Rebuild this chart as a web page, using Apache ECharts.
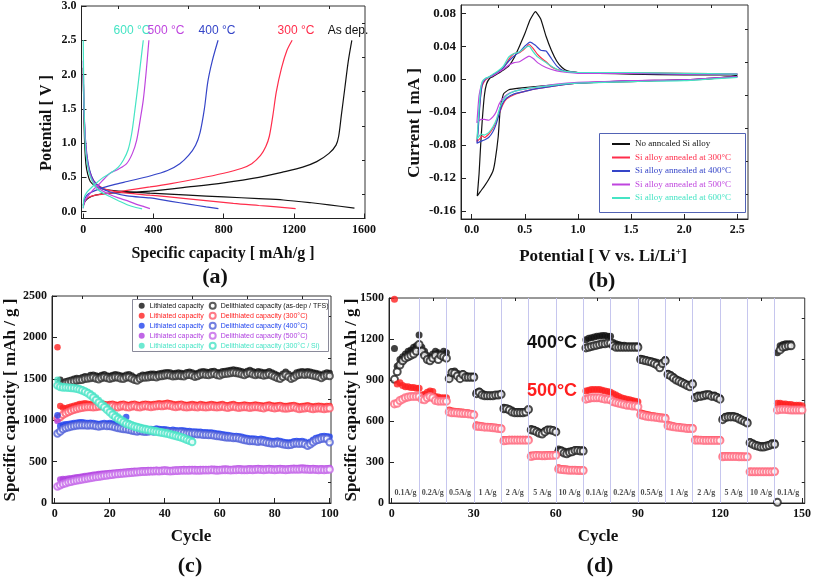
<!DOCTYPE html>
<html><head><meta charset="utf-8">
<script src="https://cdn.jsdelivr.net/npm/echarts@6/dist/echarts.min.js"></script>
<style>html,body{margin:0;padding:0;background:#fff}#c{width:814px;height:581px}</style>
</head><body><div id="c"></div>
<script>
// ---------------- Panel (a): charge/discharge curves [capacity mAh/g, potential V]
const aAsDepDis = [[0,2.1],[3,1.5],[8,1.0],[15,0.7],[25,0.55],[40,0.44],[70,0.37],[110,0.33],[200,0.3],[380,0.27],[600,0.24],[800,0.215],[1000,0.19],[1140,0.17],[1300,0.13],[1400,0.1],[1545,0.05]];
const aAsDepCha = [[0,0.08],[10,0.15],[30,0.2],[70,0.24],[150,0.27],[250,0.28],[380,0.3],[600,0.36],[800,0.42],[1000,0.5],[1140,0.58],[1250,0.65],[1330,0.73],[1400,0.85],[1440,0.97],[1455,1.1],[1470,1.4],[1490,1.8],[1510,2.2],[1530,2.5]];
const a300Dis = [[0,2.0],[4,1.5],[10,1.1],[20,0.8],[35,0.6],[60,0.45],[100,0.36],[150,0.31],[250,0.27],[380,0.24],[570,0.195],[855,0.12],[1000,0.09],[1100,0.07],[1210,0.045]];
const a300Cha = [[0,0.1],[10,0.17],[30,0.21],[70,0.24],[150,0.27],[250,0.31],[380,0.36],[500,0.41],[650,0.48],[800,0.56],[900,0.63],[960,0.7],[1010,0.82],[1040,0.95],[1060,1.1],[1080,1.4],[1100,1.75],[1130,2.1],[1160,2.35],[1190,2.5]];
const a400Dis = [[0,2.0],[4,1.5],[10,1.15],[20,0.85],[35,0.62],[60,0.45],[100,0.35],[150,0.29],[250,0.23],[380,0.2],[500,0.15],[600,0.11],[700,0.07],[770,0.045]];
const a400Cha = [[0,0.1],[10,0.2],[30,0.26],[60,0.3],[100,0.34],[170,0.39],[250,0.44],[380,0.52],[480,0.6],[550,0.7],[600,0.82],[640,0.97],[665,1.15],[690,1.5],[710,1.9],[735,2.2],[768,2.5]];
const a500Dis = [[0,2.2],[4,1.6],[10,1.15],[20,0.8],[35,0.58],[60,0.42],[100,0.32],[150,0.25],[200,0.2],[250,0.16],[300,0.11],[350,0.07],[380,0.045]];
const a500Cha = [[0,0.05],[5,0.12],[20,0.2],[50,0.3],[90,0.4],[120,0.48],[152,0.56],[200,0.62],[247,0.7],[280,0.85],[304,1.04],[325,1.35],[342,1.63],[357,2.0],[374,2.5]];
const a600Dis = [[0,2.5],[3,1.8],[8,1.2],[15,0.85],[30,0.6],[50,0.45],[80,0.33],[120,0.26],[160,0.21],[200,0.16],[250,0.1],[300,0.06],[335,0.04]];
const a600Cha = [[0,0.05],[5,0.2],[20,0.28],[50,0.36],[80,0.43],[114,0.5],[160,0.57],[200,0.65],[228,0.75],[255,0.9],[276,1.14],[295,1.5],[313,1.87],[328,2.2],[342,2.5]];
const aLabels = ['600 °C','500 °C','400 °C','300 °C','As dep.'];
const aXTicks = [0,400,800,1200,1600];
const aYTicks = [0,0.5,1.0,1.5,2.0,2.5,3.0];

// ---------------- Panel (b): cyclic voltammetry [V, mA]
const bNoAnneal = [[2.5,0.004],[2.2,0.0],[2.0,-0.001],[1.5,-0.003],[1.2,-0.004],[1.0,-0.005],[0.8,-0.007],[0.6,-0.009],[0.45,-0.011],[0.35,-0.013],[0.3,-0.018],[0.27,-0.035],[0.25,-0.07],[0.22,-0.1],[0.2,-0.112],[0.16,-0.122],[0.12,-0.13],[0.08,-0.137],[0.053,-0.142],[0.07,-0.115],[0.085,-0.08],[0.1,-0.05],[0.12,-0.02],[0.14,-0.006],[0.17,0.001],[0.2,0.003],[0.25,0.007],[0.3,0.011],[0.35,0.016],[0.4,0.026],[0.45,0.04],[0.5,0.055],[0.55,0.072],[0.6,0.082],[0.65,0.073],[0.7,0.052],[0.75,0.035],[0.8,0.022],[0.85,0.014],[0.9,0.01],[1.0,0.008],[1.2,0.007],[1.5,0.006],[2.0,0.005],[2.5,0.005]];
const b300 = [[2.5,0.003],[2.0,-0.001],[1.5,-0.002],[1.0,-0.005],[0.8,-0.008],[0.6,-0.012],[0.5,-0.015],[0.4,-0.019],[0.33,-0.024],[0.29,-0.032],[0.26,-0.042],[0.23,-0.052],[0.2,-0.06],[0.16,-0.067],[0.12,-0.071],[0.1,-0.069],[0.08,-0.072],[0.05,-0.076],[0.06,-0.06],[0.07,-0.04],[0.085,-0.02],[0.1,-0.008],[0.13,-0.001],[0.16,0.002],[0.2,0.005],[0.25,0.009],[0.3,0.014],[0.35,0.024],[0.4,0.031],[0.45,0.032],[0.5,0.037],[0.54,0.042],[0.58,0.037],[0.62,0.03],[0.66,0.025],[0.7,0.021],[0.75,0.015],[0.8,0.012],[0.9,0.009],[1.0,0.008],[1.5,0.008],[2.0,0.007],[2.5,0.006]];
const b400 = [[2.5,0.003],[2.0,-0.001],[1.5,-0.002],[1.0,-0.005],[0.8,-0.008],[0.6,-0.012],[0.5,-0.015],[0.4,-0.018],[0.33,-0.023],[0.29,-0.03],[0.26,-0.042],[0.23,-0.055],[0.2,-0.064],[0.16,-0.071],[0.12,-0.074],[0.08,-0.076],[0.05,-0.078],[0.06,-0.065],[0.07,-0.045],[0.085,-0.02],[0.1,-0.006],[0.13,0.0],[0.17,0.003],[0.2,0.005],[0.25,0.009],[0.3,0.014],[0.35,0.022],[0.4,0.028],[0.45,0.033],[0.5,0.04],[0.55,0.045],[0.6,0.041],[0.65,0.035],[0.7,0.034],[0.75,0.025],[0.8,0.016],[0.85,0.011],[0.9,0.009],[1.0,0.008],[1.5,0.007],[2.0,0.006],[2.5,0.006]];
const b500 = [[2.5,0.003],[2.0,-0.001],[1.5,-0.002],[1.0,-0.004],[0.8,-0.006],[0.6,-0.01],[0.5,-0.012],[0.4,-0.015],[0.33,-0.019],[0.29,-0.024],[0.26,-0.03],[0.23,-0.04],[0.2,-0.046],[0.16,-0.05],[0.12,-0.049],[0.09,-0.049],[0.05,-0.053],[0.06,-0.035],[0.07,-0.02],[0.09,-0.008],[0.11,-0.002],[0.14,0.001],[0.2,0.004],[0.25,0.008],[0.3,0.012],[0.35,0.017],[0.4,0.02],[0.45,0.021],[0.5,0.025],[0.54,0.028],[0.58,0.025],[0.62,0.02],[0.7,0.014],[0.8,0.01],[0.9,0.008],[1.0,0.007],[1.5,0.007],[2.0,0.006],[2.5,0.006]];
const b600 = [[2.5,0.002],[2.0,-0.002],[1.5,-0.003],[1.0,-0.005],[0.8,-0.007],[0.6,-0.01],[0.5,-0.012],[0.4,-0.015],[0.33,-0.02],[0.29,-0.027],[0.26,-0.037],[0.23,-0.05],[0.2,-0.058],[0.16,-0.065],[0.12,-0.068],[0.09,-0.067],[0.05,-0.073],[0.06,-0.055],[0.07,-0.035],[0.085,-0.012],[0.1,-0.003],[0.13,0.001],[0.17,0.003],[0.2,0.006],[0.25,0.01],[0.3,0.016],[0.35,0.027],[0.4,0.031],[0.45,0.033],[0.5,0.038],[0.54,0.04],[0.58,0.033],[0.62,0.027],[0.7,0.02],[0.8,0.012],[0.9,0.009],[1.0,0.008],[1.5,0.008],[2.0,0.007],[2.5,0.006]];
const bNames = ['No anncaled Si alloy','Si alloy annealed at 300°C','Si alloy annealed at 400°C','Si alloy annealed at 500°C','Si alloy annealed at 600°C'];
const bXTicks = [0,0.5,1.0,1.5,2.0,2.5];
const bYTicks = [-0.16,-0.12,-0.08,-0.04,0,0.04,0.08];

// ---------------- Panel (c): cycling, capacity per cycle (mAh/g)
const cAsDepLith = [1490,1450,1470,1480,1490,1500,1510,1505,1520,1530,1525,1545,1550,1540,1530,1545,1555,1540,1535,1545,1555,1550,1540,1535,1550,1555,1540,1520,1510,1535,1550,1545,1555,1560,1560,1555,1565,1570,1575,1580,1575,1565,1570,1575,1570,1565,1580,1585,1575,1560,1570,1585,1590,1585,1580,1590,1595,1580,1575,1590,1595,1600,1605,1612,1605,1600,1590,1580,1595,1605,1590,1580,1590,1585,1575,1580,1590,1575,1560,1545,1530,1560,1585,1560,1530,1550,1575,1585,1590,1585,1590,1585,1575,1570,1560,1545,1565,1575,1570]; // cycles 2-100
const cAsDepDel = [1440,1430,1445,1455,1465,1470,1480,1485,1490,1500,1505,1510,1515,1505,1495,1510,1520,1510,1500,1510,1520,1515,1505,1500,1515,1520,1505,1490,1480,1500,1515,1515,1520,1525,1525,1520,1530,1535,1540,1545,1540,1530,1535,1540,1535,1530,1545,1550,1540,1525,1535,1550,1555,1550,1545,1555,1560,1545,1540,1555,1560,1565,1570,1575,1570,1565,1555,1545,1560,1570,1555,1545,1555,1550,1540,1545,1555,1540,1525,1510,1500,1525,1550,1525,1500,1515,1540,1550,1555,1550,1555,1550,1540,1535,1525,1510,1530,1540,1535]; // cycles 2-100
const c300Lith = [1880,1170,1150,1145,1155,1165,1175,1185,1195,1200,1205,1200,1195,1185,1190,1200,1205,1195,1190,1195,1200,1190,1185,1195,1200,1190,1185,1195,1200,1190,1185,1195,1200,1195,1190,1195,1200,1205,1200,1205,1210,1205,1195,1190,1195,1200,1190,1185,1190,1195,1190,1185,1195,1190,1185,1190,1195,1190,1185,1190,1195,1185,1180,1190,1195,1185,1180,1185,1190,1185,1180,1185,1190,1185,1180,1175,1185,1190,1180,1175,1180,1185,1175,1170,1175,1180,1185,1175,1165,1170,1175,1180,1170,1165,1170,1175,1170,1165,1170,1170];
const c300Del = [1020,1040,1065,1085,1100,1115,1125,1135,1145,1150,1155,1160,1160,1155,1160,1165,1170,1165,1160,1165,1170,1160,1155,1165,1170,1160,1155,1165,1170,1160,1155,1165,1170,1165,1160,1165,1170,1175,1170,1175,1180,1175,1165,1160,1165,1170,1160,1155,1160,1165,1160,1155,1165,1160,1155,1160,1165,1160,1155,1160,1165,1155,1150,1160,1165,1155,1150,1155,1160,1155,1150,1155,1160,1155,1150,1145,1155,1160,1150,1145,1150,1155,1145,1140,1145,1150,1155,1145,1135,1140,1145,1150,1140,1135,1140,1145,1140,1135,1140,1145];
const c400Lith = [1060,930,945,950,955,960,965,970,975,975,970,965,970,965,960,955,960,965,960,965,960,955,950,945,955,1040,920,905,895,890,895,890,885,890,895,890,900,895,890,890,885,880,885,880,875,880,875,870,870,865,865,860,860,855,855,850,850,845,840,835,830,825,820,815,810,810,805,800,790,785,780,780,775,770,775,770,760,755,750,750,755,750,740,735,730,735,745,750,745,750,740,720,740,765,785,795,805,810,805,800];
const c400Del = [840,865,890,905,915,925,930,935,940,940,940,935,940,935,930,925,930,935,930,930,925,915,905,900,895,890,885,875,870,865,870,865,860,865,870,865,870,865,860,860,860,855,855,850,850,850,845,840,840,835,835,830,830,825,825,820,820,815,810,805,800,795,790,790,785,785,780,770,760,755,750,750,745,740,745,740,730,725,720,720,725,720,710,705,700,705,715,720,715,720,710,690,710,735,755,765,775,780,775,735];
const c500Lith = [990,285,290,290,295,300,305,310,315,320,325,330,335,340,345,350,352,355,360,362,365,368,372,375,378,380,383,385,388,390,392,395,397,398,400,400,402,400,403,405,403,400,402,405,405,408,410,408,410,412,410,408,410,412,410,412,415,413,410,412,415,418,415,412,415,418,420,418,415,418,420,418,420,422,420,418,420,422,420,418,420,422,420,418,420,422,425,422,425,428,425,422,420,422,420,418,420,418,420,422];
const c500Del = [200,215,230,240,250,258,265,272,278,284,290,296,302,308,313,318,323,328,333,338,342,346,350,354,357,360,363,366,369,372,374,376,378,380,382,383,385,384,386,388,386,384,386,388,390,392,394,392,394,396,394,392,394,396,395,396,398,396,394,396,398,400,398,396,398,400,402,400,398,400,402,400,402,404,402,400,402,404,402,400,402,404,402,400,402,404,406,404,406,408,406,404,402,404,402,400,402,400,402,404];
const cSiLith = [1490,1420,1410,1405,1400,1400,1395,1390,1385,1375,1360,1345,1325,1300,1275,1245,1215,1185,1155,1125,1095,1070,1045,1020,1000,980,965,950,940,930,920,912,905,898,890,884,878,870,864,858,850,842,834,826,816,806,794,782,770,755];
const cSiDel = [1420,1400,1395,1395,1392,1390,1385,1380,1370,1360,1345,1325,1300,1275,1245,1215,1185,1155,1125,1095,1065,1040,1015,995,975,958,945,933,922,912,903,895,888,881,874,867,861,855,849,842,835,827,818,810,800,790,778,765,752,738];
const cXTicks = [0,20,40,60,80,100];
const cYTicks = [0,500,1000,1500,2000,2500];

// ---------------- Panel (d): rate capability (mAh/g)
const d400Lith = [1130,1000,1050,1070,1090,1110,1120,1140,1150,1230, 1140,1110,1080,1060,1090,1110,1100,1085,1110,1100, 920,960,965,950,930,945,935,930,930,930, 810,820,805,795,790,790,790,790,795,800, 700,695,690,680,670,670,670,670,670,680, 545,540,530,520,515,530,540,540,535,525, 395,390,380,375,380,385,390,390,390,390, 1195,1205,1210,1215,1220,1222,1225,1225,1220,1220, 1175,1165,1160,1155,1155,1150,1150,1150,1150,1150, 1060,1055,1050,1045,1040,1035,1030,1010,1030,1050, 950,940,925,910,900,890,880,870,860,880, 780,790,790,795,800,800,790,790,780,770, 620,635,640,640,640,635,625,615,605,595, 450,440,430,425,420,420,425,430,440,440, 1100,1150,1160,1165,1165,1165];
const d400Del = [905,960,1010,1040,1060,1070,1080,1090,1110,1160, 1110,1080,1050,1040,1060,1080,1050,1080,1070,1060, 910,955,950,930,910,940,920,920,920,920, 800,810,790,785,785,785,785,790,790,795, 690,690,680,665,660,660,660,660,665,685, 535,530,520,510,505,520,535,535,530,520, 375,378,365,360,370,375,385,385,380,380, 1135,1140,1145,1150,1155,1160,1165,1165,1170,1170, 1150,1140,1140,1140,1140,1140,1140,1140,1140,1140, 1050,1045,1040,1035,1030,1020,1010,990,1020,1040, 940,930,915,900,890,880,870,860,850,870, 770,780,780,785,790,790,780,780,770,760, 610,625,630,630,630,625,615,605,595,585, 440,430,420,415,410,410,415,420,430,430, 5,1120,1140,1145,1150,1150];
const d500Lith = [1490,870,880,860,850,850,845,845,840,840, 790,795,810,820,815,780,775,770,770,770, 680,675,672,670,668,665,662,660,655,650, 572,568,565,562,560,560,556,555,550,548, 465,465,466,466,466,466,466,466,466,466, 352,352,353,352,352,353,353,354,354,355, 258,252,250,248,246,245,244,243,242,242, 820,825,830,830,830,830,825,820,815,810, 800,790,780,770,765,760,755,750,745,740, 660,655,650,645,640,638,635,632,630,628, 575,570,565,560,560,555,552,550,550,550, 468,466,465,465,465,465,465,465,465,465, 345,345,345,344,344,344,343,343,342,342, 232,231,230,230,230,230,230,230,230,231, 730,730,725,725,720,720,715,715,715,712];
const d500Del = [725,730,750,760,770,775,780,780,780,780, 760,755,770,780,770,750,745,745,745,745, 665,660,660,658,656,655,654,652,650,645, 562,560,558,555,555,553,550,548,545,543, 455,458,460,460,460,460,460,460,460,460, 340,345,347,347,346,346,347,348,348,350, 248,245,243,241,240,240,239,238,238,238, 760,765,770,770,770,770,765,760,760,755, 740,735,730,725,720,715,715,710,710,705, 645,640,635,632,630,628,625,622,620,618, 565,562,558,555,553,550,548,545,545,545, 460,460,460,458,458,458,458,458,458,458, 338,340,340,340,340,340,338,338,338,338, 228,228,228,228,228,228,228,228,228,230, 680,685,685,685,682,680,680,680,680,680];
const dRates = ['0.1A/g','0.2A/g','0.5A/g','1 A/g','2 A/g','5 A/g','10 A/g','0.1A/g','0.2A/g','0.5A/g','1 A/g','2 A/g','5 A/g','10 A/g','0.1A/g'];
const dBounds = [10,20,30,40,50,60,70,80,90,100,110,120,130,140];
const dXTicks = [0,30,60,90,120,150];
const dYTicks = [0,300,600,900,1200,1500];

// ---------------- helpers
const SERIF = '"Liberation Serif","Times New Roman",serif';
const SANS = '"Liberation Sans",Arial,sans-serif';
const seq = (start, arr) => arr.map((v, i) => [start + i, v]);
const minorsOf = (ticks) => { const r = []; for (let i = 0; i < ticks.length - 1; i++) r.push((ticks[i] + ticks[i + 1]) / 2); return r; };

const xAxes = [], yAxes = [];
function addAxes(list, grid, min, max, ticks, fmt, fs) {
  list.push({
    type: 'value', gridIndex: grid, min, max,
    axisLine: { show: true, onZero: false, lineStyle: { color: '#222', width: 1 } },
    axisTick: { show: true, inside: true, length: 5, customValues: ticks, lineStyle: { color: '#222' } },
    axisLabel: { customValues: ticks, formatter: fmt, fontFamily: SERIF, fontWeight: 'bold', fontSize: fs, color: '#111', margin: 5 },
    splitLine: { show: false }
  });
  list.push({
    type: 'value', gridIndex: grid, min, max,
    axisLine: { show: false, onZero: false },
    axisTick: { show: true, inside: true, length: 3, customValues: minorsOf(ticks), lineStyle: { color: '#222' } },
    axisLabel: { show: false }, splitLine: { show: false }
  });
}
addAxes(xAxes, 0, -10, 1605, aXTicks, v => String(v), 12);
addAxes(yAxes, 0, -0.1, 3.0, aYTicks, v => v.toFixed(1), 12);
addAxes(xAxes, 1, -0.1, 2.6, bXTicks, v => v.toFixed(1), 12);
addAxes(yAxes, 1, -0.17, 0.09, bYTicks, v => v.toFixed(2), 13);
addAxes(xAxes, 2, -1, 100.5, cXTicks, v => String(v), 12);
addAxes(yAxes, 2, 0, 2500, cYTicks, v => String(v), 12);
addAxes(xAxes, 3, -1, 151, dXTicks, v => String(v), 12);
addAxes(yAxes, 3, 0, 1500, dYTicks, v => String(v), 12);

const COL = { black: '#111111', red: '#ff2d4b', blue: '#3545c8', mag: '#bf45de', cyan: '#45e4c4' };
const series = [];
function curve(grid, data, color, name) {
  series.push({ type: 'line', name, xAxisIndex: grid * 2, yAxisIndex: grid * 2, data, showSymbol: false, symbol: 'none',
    smooth: 0.3, lineStyle: { color, width: 1.2 }, itemStyle: { color }, silent: true, z: 3 });
}
// (a)
curve(0, aAsDepDis, COL.black); curve(0, aAsDepCha, COL.black);
curve(0, a300Dis, COL.red); curve(0, a300Cha, COL.red);
curve(0, a400Dis, COL.blue); curve(0, a400Cha, COL.blue);
curve(0, a500Dis, COL.mag); curve(0, a500Cha, COL.mag);
curve(0, a600Dis, COL.cyan); curve(0, a600Cha, COL.cyan);
// (b)
const bCols = [COL.black, COL.red, COL.blue, COL.mag, COL.cyan];
[bNoAnneal, b300, b400, b500, b600].forEach((d, i) => curve(1, d, bCols[i], bNames[i]));
series.forEach(s => { if (s.xAxisIndex === 2) s.smooth = 0.15; });

// (c)
const cCols = ['#111111', '#ff2222', '#2244ee', '#b040e0', '#48e4c6'];
const cOpen = ['#333333', '#ff5a6a', '#5060d8', '#c466e8', '#48e4c6'];
const cTags = ['as-dep / TFS', '300°C', '400°C', '500°C', '300°C / Si'];
const cLith = [seq(2, cAsDepLith), seq(1, c300Lith), seq(1, c400Lith), seq(1, c500Lith), seq(1, cSiLith)];
const cDel = [seq(2, cAsDepDel), seq(1, c300Del), seq(1, c400Del), seq(1, c500Del), seq(1, cSiDel)];
const cLithNames = [], cDelNames = [];
[0, 1, 3, 2, 4].forEach(i => {
  const ln = 'Lithiated capacity|' + i, dn = 'Delithiated capacity (' + cTags[i] + ')';
  series.push({ type: 'scatter', name: ln, xAxisIndex: 4, yAxisIndex: 4, data: cLith[i], symbol: 'circle', symbolSize: 6.5,
    itemStyle: { color: cCols[i] }, silent: true, z: 3 });
  series.push({ type: 'scatter', name: dn, xAxisIndex: 4, yAxisIndex: 4, data: cDel[i], symbol: 'emptyCircle', symbolSize: 6.5,
    itemStyle: { color: cOpen[i], borderWidth: 1 }, silent: true, z: 3 });
});
[0, 1, 2, 3, 4].forEach(i => {
  cLithNames.push({ name: 'Lithiated capacity|' + i, textStyle: { color: cCols[i] } });
  cDelNames.push({ name: 'Delithiated capacity (' + cTags[i] + ')', textStyle: { color: cCols[i] } });
});

// (d)
series.push({ type: 'scatter', xAxisIndex: 6, yAxisIndex: 6, data: [], silent: true, z: 1,
  markLine: { silent: true, symbol: 'none', label: { show: false }, animation: false,
    lineStyle: { color: '#c6c6ee', type: 'solid', width: 1 }, data: dBounds.map(v => ({ xAxis: v })) } });
series.push({ type: 'scatter', xAxisIndex: 6, yAxisIndex: 6, data: seq(1, d400Lith), symbolSize: 7, itemStyle: { color: '#111' }, silent: true, z: 3 });
series.push({ type: 'scatter', xAxisIndex: 6, yAxisIndex: 6, data: seq(1, d400Del), symbol: 'emptyCircle', symbolSize: 7, itemStyle: { color: '#222', borderWidth: 1 }, silent: true, z: 3 });
series.push({ type: 'scatter', xAxisIndex: 6, yAxisIndex: 6, data: seq(1, d500Lith), symbolSize: 7, itemStyle: { color: '#ff1f1f' }, silent: true, z: 3 });
series.push({ type: 'scatter', xAxisIndex: 6, yAxisIndex: 6, data: seq(1, d500Del), symbol: 'emptyCircle', symbolSize: 7, itemStyle: { color: '#ff6a80', borderWidth: 1 }, silent: true, z: 3 });
series.push({ type: 'scatter', xAxisIndex: 6, yAxisIndex: 6, symbolSize: 0, silent: true, z: 4,
  data: dRates.map((t, i) => [i * 10 + 5, 75, t]),
  label: { show: true, position: 'inside', formatter: p => p.data[2], fontFamily: SERIF, fontWeight: 'bold', fontSize: 8, color: '#222' } });

// ---------------- graphic texts
const T = (text, x, y, font, fill, rot) => ({ type: 'text', x, y, rotation: rot || 0, silent: true, z: 10,
  style: { text, font, fill: fill || '#111', align: 'center', verticalAlign: 'middle' } });
const BOLD = (s) => 'bold ' + s + 'px ' + SERIF;
const graphic = [
  T('Potential [ V ]', 47, 123, BOLD(16), '#111', Math.PI / 2),
  T('Specific capacity [ mAh/g ]', 223, 254, BOLD(16)),
  T('(a)', 215, 277, BOLD(22)),
  T(aLabels[0], 132, 31, '12px ' + SANS, COL.cyan),
  T(aLabels[1], 166, 31, '12px ' + SANS, COL.mag),
  T(aLabels[2], 217, 31, '12px ' + SANS, COL.blue),
  T(aLabels[3], 296, 31, '12px ' + SANS, COL.red),
  T(aLabels[4], 348, 31, '12px ' + SANS, COL.black),
  T('Current [ mA ]', 415, 123, BOLD(17), '#111', Math.PI / 2),
  { type: 'text', x: 603, y: 257, silent: true, z: 10,
    style: { text: 'Potential [ V vs. Li/Li{s|+}]', font: BOLD(17), fill: '#111', align: 'center', verticalAlign: 'middle',
      rich: { s: { fontFamily: SERIF, fontWeight: 'bold', fontSize: 10, padding: [0, 0, 9, 0], fill: '#111' } } } },
  T('(b)', 602, 281, BOLD(22)),
  { type: 'rect', shape: { x: 599.5, y: 133.5, width: 146, height: 79 }, style: { fill: '#fff', stroke: '#5263b5', lineWidth: 1 }, z: 5, silent: true },
  T('Specific capacity [ mAh / g ]', 11, 400, BOLD(17), '#111', Math.PI / 2),
  T('Cycle', 191, 537, BOLD(17)),
  T('(c)', 190, 566, BOLD(22)),
  { type: 'rect', shape: { x: 132.5, y: 299.5, width: 196, height: 52 }, style: { fill: '#fff', stroke: '#8a8a9a', lineWidth: 1 }, z: 5, silent: true },
  T('Specific capacity [ mAh / g ]', 352, 400, BOLD(17), '#111', Math.PI / 2),
  T('Cycle', 598, 537, BOLD(17)),
  T('(d)', 600, 566, BOLD(22)),
  T('400°C', 552, 343, 'bold 18px ' + SANS, '#111'),
  T('500°C', 552, 391, 'bold 18px ' + SANS, '#ff1f1f')
];

const option = {
  backgroundColor: '#fff', animation: false,
  grid: [
    { left: 81.5, top: 6, width: 283.5, height: 212.5, show: true, borderColor: '#333', borderWidth: 1, backgroundColor: 'transparent' },
    { left: 461, top: 5, width: 287, height: 214, show: true, borderColor: '#333', borderWidth: 1, backgroundColor: 'transparent' },
    { left: 52, top: 296, width: 279, height: 207, show: true, borderColor: '#333', borderWidth: 1, backgroundColor: 'transparent' },
    { left: 389, top: 298, width: 417, height: 205, show: true, borderColor: '#333', borderWidth: 1, backgroundColor: 'transparent' }
  ],
  xAxis: xAxes, yAxis: yAxes, series, graphic,
  legend: [
    { orient: 'vertical', left: 612, top: 138, padding: 0, itemWidth: 18, itemHeight: 2, itemGap: 1.5, icon: 'rect', selectedMode: false, z: 8,
      data: bNames.map((n, i) => ({ name: n, textStyle: { color: bCols[i] } })),
      textStyle: { fontFamily: SERIF, fontSize: 9, lineHeight: 12 } },
    { orient: 'vertical', left: 138.7, top: 300.7, padding: 0, itemWidth: 6, itemHeight: 6, itemGap: 0, selectedMode: false, z: 8,
      data: cLithNames, formatter: n => n.split('|')[0],
      textStyle: { fontFamily: SANS, fontSize: 7, lineHeight: 10 } },
    { orient: 'vertical', left: 208.7, top: 300.7, padding: 0, itemWidth: 6, itemHeight: 6, itemGap: 0, selectedMode: false, z: 8,
      data: cDelNames,
      textStyle: { fontFamily: SANS, fontSize: 7, lineHeight: 10 } }
  ]
};
const chart = echarts.init(document.getElementById('c'), null, { renderer: 'canvas' });
chart.setOption(option);
</script></body></html>
